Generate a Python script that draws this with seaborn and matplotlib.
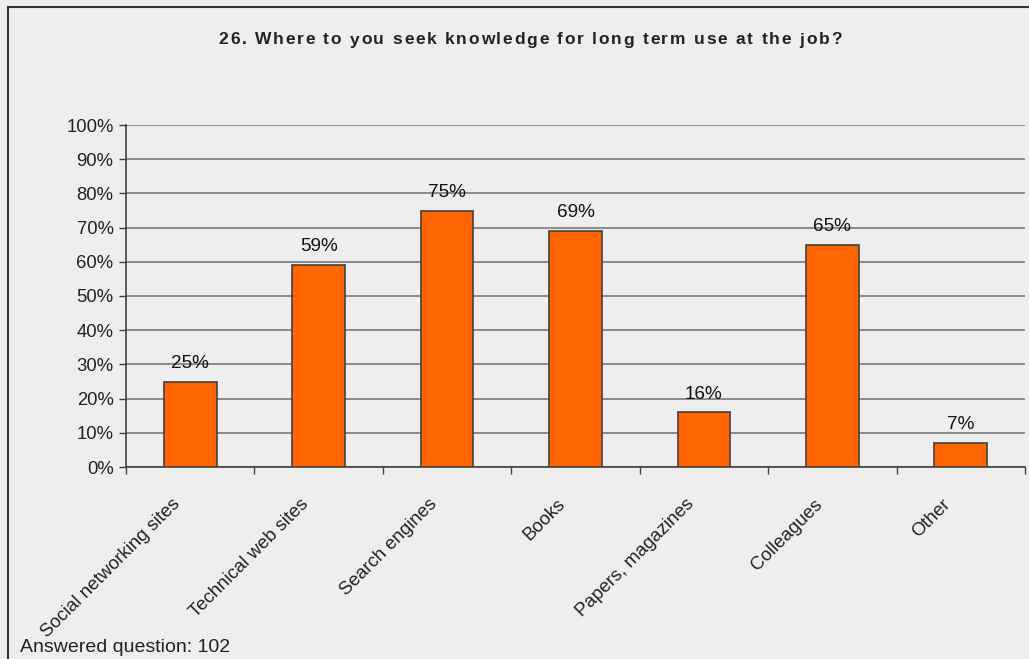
import matplotlib
matplotlib.use("Agg")
import matplotlib.pyplot as plt
import matplotlib.patches as mpatches
import seaborn as sns
import pandas as pd

categories = ["Social networking sites", "Technical web sites", "Search engines",
              "Books", "Papers, magazines", "Colleagues", "Other"]
percent = [25, 59, 75, 69, 16, 65, 7]
y_ticks = [0, 10, 20, 30, 40, 50, 60, 70, 80, 90, 100]
title = "26. Where to you seek knowledge for long term use at the job?"
footnote = "Answered question: 102"

sns.set_theme(style="white")
plt.rcParams["font.family"] = ["Liberation Sans", "DejaVu Sans"]

bg = "#EEEEEE"
fig = plt.figure(figsize=(10.29, 6.59), dpi=100, facecolor=bg)
W, H = 1029, 659
ax = fig.add_axes([126 / W, 1 - 467 / H, (1025 - 126) / W, (467 - 125) / H])
ax.set_facecolor(bg)

df = pd.DataFrame({"category": categories, "percent": percent})
sns.barplot(data=df, x="category", y="percent", ax=ax, color="#FF6600",
            saturation=1, width=0.41, edgecolor="#404040", linewidth=1.2, zorder=3)

ax.set_ylim(0, 100)
ax.set_xlim(-0.5, len(categories) - 0.5)
ax.set_yticks(y_ticks)
ax.set_yticklabels([f"{v}%" for v in y_ticks], fontsize=13.3, color="#222222")
ax.yaxis.grid(True, color="#707070", linewidth=1.1, zorder=0)
ax.set_axisbelow(True)
ax.set_xlabel("")
ax.set_ylabel("")

# category boundary ticks on the x axis
ax.set_xticks([i - 0.5 for i in range(len(categories) + 1)])
ax.set_xticklabels([])
ax.tick_params(axis="x", direction="out", length=5, width=1, color="#404040", bottom=True)
ax.tick_params(axis="y", direction="out", length=5, width=1, color="#404040", left=True, pad=4)

for s in ["top", "right"]:
    ax.spines[s].set_visible(False)
for s in ["left", "bottom"]:
    ax.spines[s].set_color("#404040")
    ax.spines[s].set_linewidth(1.2)

# rotated category names
for i, name in enumerate(categories):
    ax.annotate(name, xy=(i, 0), xycoords=("data", "axes fraction"),
                xytext=(-9, -25), textcoords="offset points",
                rotation=45, ha="right", va="center", rotation_mode="anchor",
                fontsize=13.4, color="#222222")

# value labels above each bar
for i, v in enumerate(percent):
    ax.annotate(f"{v}%", xy=(i, v), xytext=(0, 7), textcoords="offset points",
                ha="center", va="bottom", fontsize=13.6, color="#111111")

# letter-spaced bold title, laid out one glyph at a time
renderer = fig.canvas.get_renderer()
title_kw = dict(fontsize=12.5, fontweight="bold", color="#222222", va="center", ha="left")
spacing = 1.75
widths = []
for ch in title:
    t = fig.text(0, 0, ch if ch != " " else "a a", **title_kw)
    w = t.get_window_extent(renderer).width
    if ch == " ":
        t2 = fig.text(0, 0, "aa", **title_kw)
        w = w - t2.get_window_extent(renderer).width
        t2.remove()
    t.remove()
    widths.append(w + spacing)
total = sum(widths) - spacing
x = 530 - total / 2
for ch, w in zip(title, widths):
    if ch != " ":
        fig.text(x / W, 1 - 40 / H, ch, **title_kw)
    x += w

fig.text(20 / W, 1 - 648 / H, footnote, ha="left", va="center",
         fontsize=14, color="#222222")

# outer chart frame
fig.patches.append(mpatches.Rectangle((8 / W, -0.05), 1.2, 1 - 7 / H + 0.05,
                                      transform=fig.transFigure, fill=False,
                                      edgecolor="#333333", linewidth=1.5))

fig.savefig("out.png", dpi=100, facecolor=bg)
